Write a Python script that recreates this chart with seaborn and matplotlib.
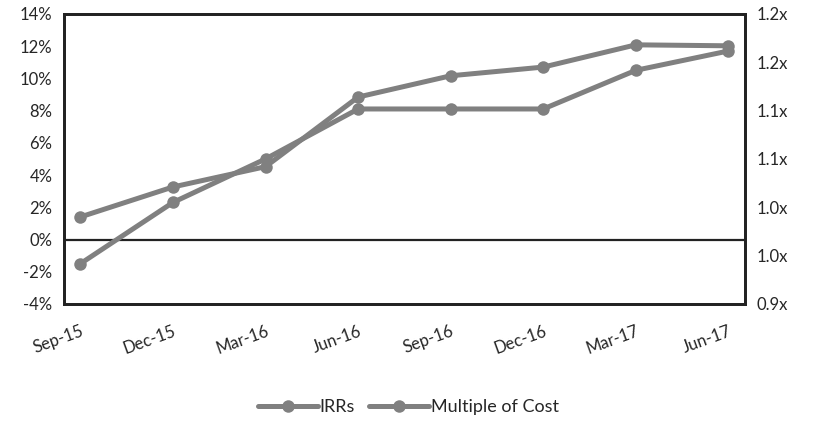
import numpy as np
import pandas as pd
import seaborn as sns
import matplotlib.pyplot as plt

# quarters on the x axis
quarters = ["Sep-15", "Dec-15", "Mar-16", "Jun-16", "Sep-16", "Dec-16", "Mar-17", "Jun-17"]
# IRR in percent (left axis)
irrs = [-1.5, 2.3, 5.0, 8.1, 8.1, 8.1, 10.5, 11.7]
# multiple of cost (right axis)
multiples = [0.990, 1.021, 1.042, 1.114, 1.136, 1.145, 1.168, 1.167]

left_ticks = [-4, -2, 0, 2, 4, 6, 8, 10, 12, 14]
right_ticks = [0.90, 0.95, 1.00, 1.05, 1.10, 1.15, 1.20]
right_labels = ["0.9x", "1.0x", "1.0x", "1.1x", "1.1x", "1.2x", "1.2x"]

df = pd.DataFrame({"pos": np.arange(len(quarters)), "irr": irrs, "moc": multiples})

sns.set_style("white")
plt.rcParams['font.family'] = ['Lato', 'DejaVu Sans']

grey = "#808080"
fig, ax = plt.subplots(figsize=(8.17, 4.21), dpi=100)
fig.subplots_adjust(left=0.078, right=0.912, top=0.967, bottom=0.278)
ax2 = ax.twinx()

sns.lineplot(data=df, x="pos", y="irr", ax=ax, color=grey, lw=3.6, marker="o",
             markersize=9, markeredgewidth=0, label="IRRs", legend=False)
sns.lineplot(data=df, x="pos", y="moc", ax=ax2, color=grey, lw=3.6, marker="o",
             markersize=9, markeredgewidth=0, label="Multiple of Cost", legend=False)

ax.set_ylim(-4, 14)
ax.set_yticks(left_ticks)
ax.set_yticklabels([f"{t}%" for t in left_ticks], fontsize=12)
ax2.set_ylim(0.90, 1.20)
ax2.set_yticks(right_ticks)
ax2.set_yticklabels(right_labels, fontsize=12)

ax.set_xlim(-0.18, 7.18)
ax.set_xticks(df["pos"])
ax.set_xticklabels(quarters, rotation=20, ha="right", rotation_mode="anchor", fontsize=12)
ax.set_xlabel("")
ax.set_ylabel("")
ax2.set_ylabel("")

ax.axhline(0, color="#222222", lw=1.6, zorder=1)
for a in (ax, ax2):
    for s in a.spines.values():
        s.set_color("#222222")
        s.set_linewidth(2)
    a.tick_params(length=0, pad=8)
ax.tick_params(axis="x", pad=14)

h1, l1 = ax.get_legend_handles_labels()
h2, l2 = ax2.get_legend_handles_labels()
fig.legend(h1 + h2, l1 + l2, loc="lower center", bbox_to_anchor=(0.5, -0.025), ncol=2,
           frameon=False, fontsize=13, handlelength=3.3, columnspacing=0.8, handletextpad=0.1)

plt.savefig("out.png", dpi=100)
